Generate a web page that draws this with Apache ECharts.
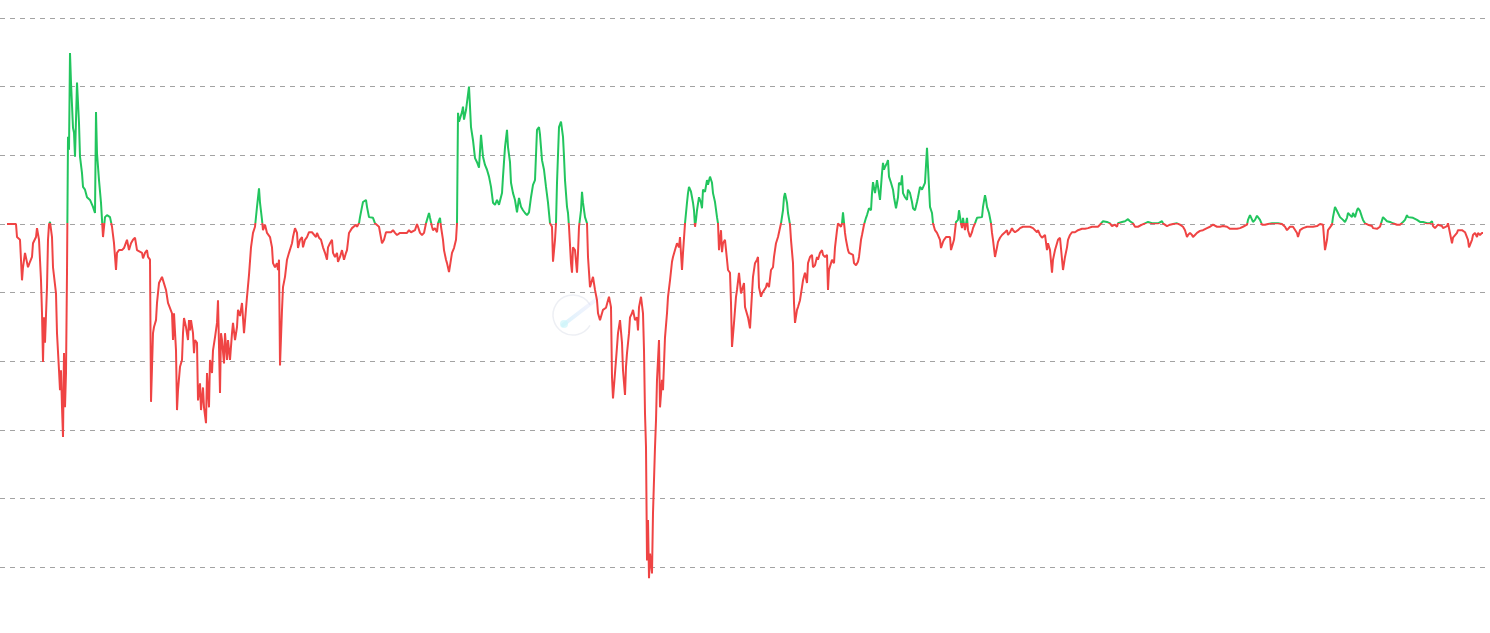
<!DOCTYPE html>
<html>
<head>
<meta charset="utf-8">
<script src="https://cdn.jsdelivr.net/npm/echarts@6/dist/echarts.min.js"></script>
<style>
html,body{margin:0;padding:0;background:#fff;overflow:hidden;width:1490px;height:633px;}
#chart{width:1490px;height:636px;}
</style>
</head>
<body>
<div id="chart"></div>
<script>
// Day offsets from the start of the series
const days = [
0,5,9,10,13,15,16,18,20,21, 22,23,25,26,29,30,32,34,35,36, 37,38,40,41,42,43,45,46,48,49,
50,52,53,54,55,56,57,58,59,60, 61,62,63,64,66,67,68,70,72,73, 75,76,78,80,83,86,88,89,90,92,
94,95,96,98,100,103,105,107,109,110, 112,115,117,120,122,124,126,128,130,132,
135,136,138,140,141,143,144,146,147,149, 150,152,155,157,159,161,163,165,166,167,
169,170,171,173,175,176,177,179,181,182, 183,184,186,187,188,190,191,193,194,196,
197,199,200,202,203,205,206,208,210,211, 213,214,215,217,218,220,221,223,225,226, 228,230,231,
233,235,237,240,242,244,246,248,250,252, 253,255,256,258,260,263,265,266,268,270,
271,272,273,275,276,278,280,282,285,286, 288,290,291,293,295,296,298,300,302,305,
307,309,310,312,314,316,318,320,321,323, 325,326,328,330,331,333,335,337,339,340,
342,345,347,349,350,352,353,355,356,357, 359,360,362,364,366,368,370,372,374,375,
377,379,381,384,386,388,390,393,396,398, 400,402,404,406,408,410,411,413,415,417,
419,420,422,423,425,426,428,430,431,
433,434,436,437,439,440,442,443,445,447, 449,450,451,452,455,456,457,459,460,462,
463,464,466,468,470,472,474,476,478,480, 482,484,486,488,490,492,495,496,498,500,
501,503,504,506,508,510,512,514,516,518, 520,522,524,526,528,530,532,533,535,537,
539,541,543,545,546,548,549,550,552,554, 556,557,558,560,561,562,564,565,566,568,
570,571,572,574,575,576,578,580,581,583, 585,586,588,590,591,593,595,596,599,601,
602,604,605,606,608,610,611,613,615,616, 618,619,620,622,623,625,626,628,630,631,
632,634,636,637,638,639,640,641,642,643, 644,645,646,648,649,650,652,653,655,656,
658,660,661,663,665,666,668,670,672,
673,675,676,678,680,681,682,684,686,687, 688,689,690,692,694,695,696,698,700,701,
703,705,706,708,710,711,712,714,715,716, 718,720,721,723,724,725,727,729,730,732,
734,735,737,738,740,741,743,745,746,748, 750,751,752,754,755,757,759,760,762,764,
766,767,769,771,772,774,776,777,778,780, 781,783,784,786,787,788,790,791,793,795,
796,798,800,801,803,805,806,808,810,811, 813,815,816,818,820,821,822,824,825,827,
828,830,831,832,834,835,836,838,839,841, 842,844,846,847,849,851,852,854,855,857,
859,860,862,864,865,866,868,869,870,872, 873,875,876,877,878,880,881,882,884,886,
887,889,891,892,894,895,896,898,900,901, 903,905,906,908,910,
911,913,915,916,918,920,921,923,925,926, 928,930,931,933,934,936,937,939,941,943,
944,946,947,949,951,952,954,955,956,958, 960,961,963,965,966,968,970,972,975,976,
978,979,980,982,984,985,986,988,990,991, 993,995,996,998,1000,1001,1003,1005,1006,1008,
1010,1011,1013,1015,1016,1018,1020,1021,1023,1025, 1026,1028,1030,1031,1033,1035,1036,1038,1040,1041,
1043,1045,1046,1048,1050,1051,1053,1055,1056,1058, 1060,1061,1063,1065,1066,1068,1070,1071,1073,1075,
1076,1078,1080,1081,1083,1085,1086,1088,1090,1091, 1093,1095,1096,1098,1100,1101,1103,1105,1106,1108,
1110,1111,1113,1115,1116,1118,1120,1121,1123,1125, 1126,1128,1130,1131,1133,1135,1136,1138,1140,1141,
1143,1145,1146,1148,1150,1151,1153,1155,1156,1158, 1160,1161,1163,1165,1166,1168,1170,1171,1173,1175,
1176,1178,1180,1181,1183,1185,1186,1188,1190,1191,
1193,1196,1200,1203,1206,1210,1213,1216,1220,1223, 1226,1230,1233,1236,1240,1241,1243,1245,1246,1248,
1250,1251,1253,1255,1258,1261,1265,1268,1271,1275, 1278,1280,1283,1286,1290,1291,1293,1296,1300,1303,
1306,1310,1313,1316,1318,1320,1321,1325,1326,1328, 1330,1331,1333,1335,1336,1338,1340,1341,1343,1345,
1346,1348,1350,1351,1353,1355,1356,1358,1361,1365, 1366,1370,1373,1376,1378,1380,1381,1383,1385,1386,
1388,1390,1391,1393,1395,1396,1398,1400,1401,1403, 1406,1410,1413,1416,1420,1421,1423,1425,1426,1428,
1430,1431,1433,1435,1436,1438,1440,1441,1443,1445, 1446,1448,1450,1451,1455,1458,1460,1461,1462,1465,
1466,1468,1470,1471,1473,1475,1476
];

// Series values (percent)
const values = [
0,0,0,-1.9,-2.3,-8.2,-6.3,-4.2,-4.2,-6.3, -6.4,-5.5,-4.8,-2.8,-1.9,-0.6,-2.3,-8.2,-13.0,-20.1, -13.6,-17.3,-9.2,-2.3,-0.1,0.3,-1.9,-6.3,-6.3,-10.1,
-15.9,-21.3,-24.2,-21.3,-26.7,-31.0,-18.8,-26.7,-21.7,-7.1, 12.7,10.8,24.9,20.6,14.0,13.3,9.8,20.6,14.7,9.8, 7.4,5.4,5.0,3.9,3.5,2.5,1.6,16.3,10.3,6.4,
3.1,0.6,-1.9,1.0,1.3,1.0,-0.4,-2.8,-6.7,-4.2, -3.8,-3.8,-3.5,-2.3,-3.8,-2.8,-2.3,-2.0,-3.8,-3.8,
-4.2,-5.0,-4.2,-3.8,-4.8,-5.2,-25.9,-15.9,-15.0,-14.0, -11.5,-8.6,-7.7,-7.9,-9.6,-11.5,-11.5,-13.0,-16.9,-13.0,
-18.4,-27.1,-24.2,-20.8,-19.8,-15.9,-13.7,-15.0,-16.9,-14.0, -15.5,-14.0,-15.9,-18.8,-16.9,-17.3,-25.7,-23.2,-27.1,-23.8,
-26.7,-29.0,-21.7,-26.7,-19.8,-21.7,-18.4,-16.5,-14.4,-11.1, -24.6,-15.9,-16.9,-20.3,-15.9,-19.8,-16.9,-19.8,-15.9,-14.4, -16.9,-15.0,-12.5,
-13.4,-11.5,-15.9,-10.6,-7.4,-3.4,-1.3,-0.4,2.5,5.2, 3.1,0.6,-0.9,-0.1,-1.3,-1.9,-3.4,-5.7,-6.3,-5.7,
-6.7,-5.2,-20.6,-12.5,-9.2,-7.7,-5.2,-4.2,-2.8,-1.9, -0.6,-1.3,-3.5,-2.3,-1.9,-3.4,-2.3,-1.9,-1.2,-1.2,
-1.3,-1.9,-1.3,-2.0,-2.3,-3.4,-4.2,-5.2,-3.4,-2.8, -2.3,-4.2,-4.8,-4.2,-5.5,-4.8,-3.8,-5.2,-4.2,-3.8,
-1.3,-0.6,-0.4,-0.1,-0.4,0.1,1.0,2.5,3.2,3.1, 3.5,2.5,1.0,0.9,0.9,0.1,-0.1,-0.4,-0.6,-2.8,
-2.3,-1.2,-1.2,-1.2,-0.9,-1.3,-1.6,-1.3,-1.3,-1.2, -1.3,-0.9,-1.2,-1.2,-0.9,0,-0.4,-1.3,-1.6,-1.3,
0.1,0.6,1.6,0.9,-0.4,-0.9,-0.6,-1.2,0.1,
0.9,-0.4,-2.3,-3.8,-5.2,-5.7,-7.0,-7.0,-4.2,-3.5, -2.3,0.1,16.2,14.9,16.3,17.1,15.2,16.6,16.6,20.0,
17.1,14.1,12.2,9.6,9.0,8.2,13.0,9.8,8.6,7.9, 6.9,5.4,3.1,2.8,3.5,2.8,4.5,6.9,11.2,13.7,
11.2,9.0,6.0,4.5,3.5,1.7,3.8,2.5,2.0,1.6, 1.3,1.7,3.9,5.7,6.4,13.7,14.1,13.0,9.3,7.9,
5.4,3.1,0.1,-0.4,-5.5,-2.3,0.1,6.0,14.1,14.9, 12.7,9.8,6.4,2.5,1.6,-0.4,-5.7,-7.1,-3.4,-3.8,
-7.1,-4.2,-0.4,2.0,4.7,3.1,1.0,0.1,-4.8,-9.2, -8.2,-7.7,-9.6,-11.1,-13.0,-14.0,-13.0,-12.5,-12.2,-11.1,
-10.6,-12.1,-22.3,-25.4,-21.7,-17.9,-15.9,-14.0,-17.3,-21.3, -24.9,-20.8,-18.8,-15.9,-13.6,-13.0,-12.5,-14.0,-13.6,-15.5,
-12.1,-10.6,-13.0,-18.4,-27.6,-32.5,-49.0,-43.1,-51.6,-48.0, -49.4,-50.9,-42.1,-32.5,-28.6,-22.7,-16.9,-26.7,-22.7,-24.2,
-16.5,-13.0,-10.6,-8.2,-5.5,-4.8,-3.8,-2.8,-3.4,
-1.9,-6.7,-4.2,0.1,3.1,4.5,5.4,4.7,3.1,2.0, -0.4,0.6,2.0,3.9,3.1,2.3,5.0,4.7,6.4,5.7,
6.9,6.0,4.5,3.2,1.0,0.1,-3.8,-0.9,-4.1,-2.8, -2.3,-5.2,-6.7,-7.1,-11.5,-17.9,-14.4,-10.6,-9.6,-7.1,
-10.1,-9.6,-8.6,-12.1,-12.1,-13.6,-15.2,-10.1,-7.7,-5.7, -5.2,-4.8,-9.2,-10.6,-10.1,-10.3,-9.2,-8.6,-9.2,-6.7,
-6.3,-4.8,-2.8,-1.9,-1.9,0.1,2.0,3.9,4.5,3.1, 1.6,-0.1,-2.3,-5.7,-11.5,-14.4,-12.5,-12.1,-11.1,-9.2,
-8.2,-7.1,-8.6,-5.7,-4.8,-4.5,-6.3,-6.0,-4.8,-5.2, -4.2,-3.8,-4.5,-4.8,-4.5,-9.6,-6.7,-5.7,-5.2,-5.7,
-3.4,-0.9,0.1,-0.1,-0.4,0.1,1.7,-1.3,-2.3,-3.8, -4.2,-4.2,-4.5,-5.7,-6.0,-5.5,-4.8,-2.3,-1.6,-0.1,
0.9,1.3,2.3,2.0,4.5,6.1,4.5,5.4,6.4,4.5, 3.5,7.4,8.9,7.9,8.3,8.9,9.3,6.9,6.0,5.0,
3.9,2.3,3.9,6.0,5.7,7.1,4.5,3.9,3.5,5.0, 4.5,3.2,2.3,2.0,3.2,
3.9,5.4,5.0,5.0,6.0,11.1,8.3,2.5,1.6,0.1, -0.9,-1.3,-1.2,-2.3,-3.5,-2.6,-2.3,-1.9,-1.9,-1.9,
-3.8,-2.8,-2.3,0.3,0.6,2.0,0.1,-0.6,0.9,-0.9, 0.9,-0.9,-1.9,-1.2,-0.6,0.1,0.9,1.0,1.0,2.5,
4.2,3.5,2.5,1.6,0.1,-1.3,-2.3,-4.8,-3.4,-2.6, -2.0,-1.6,-1.6,-1.2,-0.9,-1.6,-1.2,-0.6,-0.9,-1.2,
-1.3,-0.9,-0.6,-0.4,-0.4,-0.6,-0.4,-0.3,-0.4,-0.3, -0.6,-0.6,-1.2,-0.9,-1.6,-2.0,-1.9,-1.6,-3.8,-2.8,
-3.8,-7.1,-5.2,-3.8,-2.8,-2.3,-2.0,-1.9,-6.7,-4.8, -3.4,-2.3,-1.6,-1.2,-1.3,-1.2,-1.0,-0.9,-0.7,-0.7,
-0.6,-0.7,-0.7,-0.6,-0.7,-0.4,-0.6,-0.4,-0.3,-0.4, -0.1,0.1,0.4,0.4,0.3,0.1,0.1,-0.3,-0.4,-0.1,
-0.4,0.1,0.3,0.3,0.4,0.4,0.6,0.7,0.4,0.3, 0.1,-0.4,-0.6,-0.4,-0.3,-0.1,0,0.1,0.1,0.3,
0.3,0.1,0.3,0.1,0.3,0.1,0.3,0.4,0.1,-0.1, -0.3,-0.4,-0.1,0.1,0,0.1,0.1,0,-0.1,-0.3,
-0.4,-0.9,-1.9,-1.6,-1.3,-1.6,-1.9,-1.6,-1.3,-1.2,
-1.0,-0.9,-0.6,-0.4,-0.1,-0.4,-0.4,-0.3,-0.4,-0.7, -0.7,-0.7,-0.6,-0.4,-0.1,0.6,1.3,1.2,0.3,0.6,
1.2,1.3,0.6,-0.1,-0.1,0,0.1,0.1,0.1,0, -0.4,-0.9,-0.4,-0.4,-1.3,-1.9,-0.9,-0.6,-0.4,-0.4,
-0.4,-0.3,0,-0.1,-3.8,-2.3,-0.9,-0.1,1.0,2.5, 2.6,1.6,1.0,0.9,0.6,0.3,0.9,1.6,1.3,1.0,
1.6,1.0,2.0,2.3,1.9,1.0,0.6,0.1,-0.1,-0.3, -0.6,-0.7,-0.4,1.0,0.9,0.4,0.6,0.3,0.4,0.1,
0,-0.1,-0.3,-0.1,0.1,0.3,0.6,1.3,1.0,1.0, 0.9,0.6,0.3,0.3,0.1,-0.1,0.1,0.4,-0.3,-0.6,
-0.4,-0.1,0,-0.3,-0.6,-0.4,-0.3,0.1,0.1,-2.8, -2.0,-1.9,-1.3,-0.9,-0.9,-1.2,-1.3,-2.3,-3.4,-2.3,
-1.6,-1.3,-1.9,-1.3,-1.6,-1.3,-1.3
];

const BASELINE = 0;
const UP_COLOR = '#22c55e';
const DOWN_COLOR = '#ef4444';

const n = Math.min(days.length, values.length);
if (days.length !== values.length) console.warn('length mismatch', days.length, values.length);
const seriesData = [];
for (let i = 0; i < n; i++) seriesData.push([days[i], values[i]]);

// Split the stroke colour exactly at the baseline: the gradient is relative
// to the line's bounding box, which spans from the max to the min value.
let vMax = -Infinity, vMin = Infinity;
for (let i = 0; i < n; i++) { vMax = Math.max(vMax, values[i]); vMin = Math.min(vMin, values[i]); }
const split = (vMax - BASELINE) / (vMax - vMin);
const lineGradient = new echarts.graphic.LinearGradient(0, 0, 0, 1, [
  {offset: 0, color: UP_COLOR},
  {offset: split, color: UP_COLOR},
  {offset: split, color: DOWN_COLOR},
  {offset: 1, color: DOWN_COLOR}
]);

const chart = echarts.init(document.getElementById('chart'), null, {renderer: 'canvas'});
chart.setOption({
  animation: false,
  backgroundColor: '#ffffff',
  grid: {left: 0, right: 0, top: 18, bottom: 0, containLabel: false},
  xAxis: {
    type: 'value', min: -7, max: 1483,
    axisLine: {show: false}, axisTick: {show: false}, axisLabel: {show: false},
    splitLine: {show: false}
  },
  yAxis: {
    type: 'value', min: -60, max: 30, interval: 10,
    axisLine: {show: false}, axisTick: {show: false}, axisLabel: {show: false},
    splitLine: {show: true, lineStyle: {color: '#a3a3a3', width: 1, type: [5, 5]}}
  },
  graphic: [
    {type: 'arc', silent: true, z: -1,
     shape: {cx: 573, cy: 315, r: 20, startAngle: 0.55, endAngle: 5.75},
     style: {stroke: 'rgba(215,220,230,0.45)', lineWidth: 1.5, fill: null}},
    {type: 'line', silent: true, z: -1,
     shape: {x1: 563, y1: 325, x2: 606, y2: 292},
     style: {lineWidth: 4, lineCap: 'round',
       stroke: new echarts.graphic.LinearGradient(0, 1, 1, 0, [
         {offset: 0, color: 'rgba(200,240,250,0.7)'},
         {offset: 1, color: 'rgba(225,210,250,0.1)'}
       ])}},
    {type: 'circle', silent: true, z: -1,
     shape: {cx: 564, cy: 324, r: 4},
     style: {fill: 'rgba(205,245,250,0.7)'}}
  ],
  series: [{
    type: 'line',
    data: seriesData,
    showSymbol: false,
    symbol: 'none',
    clip: false,
    lineStyle: {width: 2, color: lineGradient},
    z: 2
  }]
});
</script>
</body>
</html>
